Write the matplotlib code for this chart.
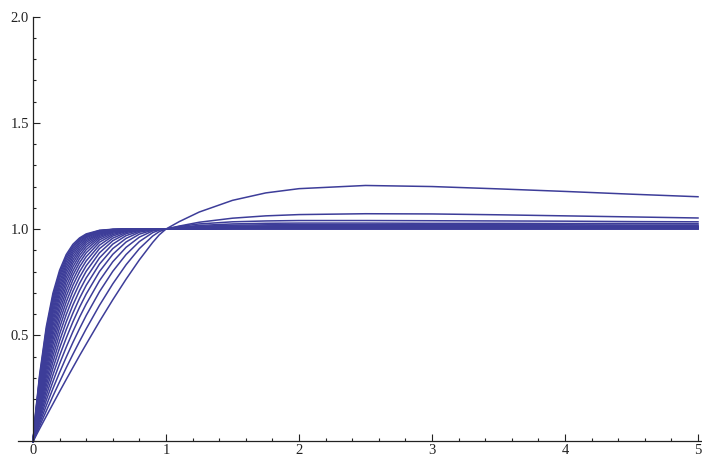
import matplotlib
matplotlib.use('Agg')
import matplotlib.pyplot as plt
from matplotlib.ticker import FixedLocator

# Puntos en x donde se leyeron las curvas (subida hasta x=1 y tramo despues de 1)
x_subida = [0, 0.02, 0.05, 0.1, 0.15, 0.2, 0.25, 0.3, 0.35, 0.4, 0.5, 0.6, 0.7, 0.8, 0.9, 0.95, 1.0]
x_despues = [1.1, 1.25, 1.5, 1.75, 2.0, 2.5, 3.0, 3.5, 4.0, 4.5, 5.0]

# Valores de cada curva en la subida (de la mas lenta a la mas rapida)
curvas_subida = [
    [0, .024, .060, .119, .177, .235, .292, .348, .404, .458, .565, .667, .764, .855, .937, .973, 1],
    [0, .029, .073, .144, .214, .281, .347, .410, .471, .530, .641, .742, .832, .908, .967, .988, 1],
    [0, .035, .086, .169, .249, .325, .397, .466, .531, .593, .705, .801, .880, .941, .983, .995, 1],
    [0, .040, .099, .194, .282, .366, .444, .517, .585, .647, .757, .846, .914, .962, .991, .998, 1],
    [0, .046, .112, .217, .314, .404, .487, .563, .632, .694, .800, .881, .939, .976, .995, .999, 1],
    [0, .051, .125, .240, .345, .440, .527, .604, .674, .735, .835, .908, .956, .985, .997, 1, 1],
    [0, .057, .137, .262, .374, .474, .563, .642, .711, .770, .864, .929, .969, .990, .999, 1, 1],
    [0, .062, .150, .283, .402, .506, .597, .676, .744, .801, .888, .945, .978, .994, .999, 1, 1],
    [0, .067, .162, .304, .428, .536, .628, .707, .773, .827, .908, .957, .984, .996, 1, 1, 1],
    [0, .072, .174, .324, .454, .564, .657, .735, .799, .850, .924, .967, .989, .997, 1, 1, 1],
    [0, .078, .186, .344, .478, .590, .684, .760, .822, .870, .938, .974, .992, .998, 1, 1, 1],
    [0, .083, .197, .363, .501, .615, .708, .783, .842, .888, .949, .980, .994, .999, 1, 1, 1],
    [0, .088, .209, .382, .523, .638, .731, .803, .860, .903, .958, .985, .996, .999, 1, 1, 1],
    [0, .093, .220, .400, .545, .660, .752, .822, .876, .916, .965, .988, .997, 1, 1, 1, 1],
    [0, .098, .231, .417, .565, .681, .771, .839, .890, .927, .971, .991, .998, 1, 1, 1, 1],
    [0, .103, .242, .434, .584, .700, .789, .854, .902, .937, .976, .993, .998, 1, 1, 1, 1],
    [0, .108, .253, .451, .603, .718, .805, .868, .913, .945, .980, .994, .999, 1, 1, 1, 1],
    [0, .113, .263, .466, .620, .735, .820, .881, .923, .952, .984, .996, .999, 1, 1, 1, 1],
    [0, .118, .274, .482, .637, .751, .834, .892, .932, .959, .987, .997, .999, 1, 1, 1, 1],
    [0, .123, .284, .497, .653, .767, .847, .902, .940, .964, .989, .997, 1, 1, 1, 1, 1],
    [0, .128, .295, .512, .669, .781, .859, .912, .947, .969, .991, .998, 1, 1, 1, 1, 1],
    [0, .133, .305, .526, .684, .794, .870, .920, .953, .973, .993, .998, 1, 1, 1, 1, 1],
    [0, .138, .315, .540, .698, .806, .880, .928, .958, .977, .994, .999, 1, 1, 1, 1, 1],
]

# Valores de cada curva despues de x=1 (el pequeno sobrepaso)
curvas_despues = [
    [1.035, 1.080, 1.135, 1.170, 1.190, 1.205, 1.200, 1.189, 1.177, 1.164, 1.152],
    [1.014, 1.032, 1.051, 1.062, 1.068, 1.072, 1.071, 1.067, 1.062, 1.057, 1.052],
    [1.012, 1.024, 1.034, 1.038, 1.040, 1.040, 1.039, 1.038, 1.037, 1.035, 1.034],
    [1.008, 1.017, 1.024, 1.027, 1.028, 1.028, 1.027, 1.027, 1.026, 1.026, 1.025],
    [1.006, 1.013, 1.018, 1.020, 1.021, 1.021, 1.021, 1.020, 1.020, 1.019, 1.019],
    [1.005, 1.010, 1.014, 1.015, 1.016, 1.016, 1.016, 1.016, 1.015, 1.015, 1.015],
    [1.004, 1.008, 1.011, 1.012, 1.013, 1.013, 1.013, 1.012, 1.012, 1.012, 1.012],
    [1.003, 1.007, 1.009, 1.010, 1.011, 1.011, 1.011, 1.010, 1.010, 1.010, 1.010],
    [1.003, 1.005, 1.008, 1.009, 1.009, 1.009, 1.009, 1.009, 1.008, 1.008, 1.008],
    [1.002, 1.005, 1.007, 1.008, 1.008, 1.008, 1.008, 1.008, 1.007, 1.007, 1.007],
    [1.002, 1.004, 1.006, 1.007, 1.007, 1.007, 1.007, 1.007, 1.006, 1.006, 1.006],
    [1.002, 1.004, 1.005, 1.006, 1.006, 1.006, 1.006, 1.006, 1.005, 1.005, 1.005],
    [1.002, 1.003, 1.004, 1.005, 1.005, 1.005, 1.005, 1.005, 1.005, 1.005, 1.005],
    [1.001, 1.002, 1.003, 1.004, 1.004, 1.004, 1.004, 1.004, 1.004, 1.004, 1.004],
    [1.001, 1.002, 1.003, 1.003, 1.003, 1.003, 1.003, 1.003, 1.003, 1.003, 1.003],
    [1.001, 1.002, 1.003, 1.003, 1.003, 1.003, 1.003, 1.003, 1.003, 1.003, 1.003],
    [1.001, 1.002, 1.003, 1.003, 1.003, 1.003, 1.003, 1.003, 1.003, 1.003, 1.003],
    [1.001, 1.001, 1.002, 1.002, 1.002, 1.002, 1.002, 1.002, 1.002, 1.002, 1.002],
    [1.001, 1.001, 1.002, 1.002, 1.002, 1.002, 1.002, 1.002, 1.002, 1.002, 1.002],
    [1.001, 1.001, 1.002, 1.002, 1.002, 1.002, 1.002, 1.002, 1.002, 1.002, 1.002],
    [1.001, 1.001, 1.002, 1.002, 1.002, 1.002, 1.002, 1.002, 1.002, 1.002, 1.002],
    [1.001, 1.001, 1.002, 1.002, 1.002, 1.002, 1.002, 1.002, 1.002, 1.002, 1.002],
    [1.001, 1.001, 1.002, 1.002, 1.002, 1.002, 1.002, 1.002, 1.002, 1.002, 1.002],
]

etiquetas_y = ['0.5', '1.0', '1.5', '2.0']
valores_y = [0.5, 1.0, 1.5, 2.0]
etiquetas_x = ['0', '1', '2', '3', '4', '5']
valores_x = [0, 1, 2, 3, 4, 5]
# Marcas menores: cada 0.2 en x y cada 0.1 en y
menores_x = [i / 5 for i in range(26)]
menores_y = [i / 10 for i in range(21)]

color_linea = (0.24, 0.24, 0.6)  # azul tipico de Mathematica

fig = plt.figure(figsize=(7.02, 4.57), dpi=100)
ax = fig.add_axes([0, 0, 1, 1])

# Dibujamos todas las curvas con el mismo color
for subida, despues in zip(curvas_subida, curvas_despues):
    ax.plot(x_subida + x_despues, subida + despues, color=color_linea, lw=1.1,
            solid_joinstyle='round')

ax.set_xlim(-0.248, 5.03)
ax.set_ylim(-0.073, 2.078)

# Ejes que se cruzan en el origen, estilo Mathematica
ax.spines['top'].set_visible(False)
ax.spines['right'].set_visible(False)
ax.spines['left'].set_position(('data', 0))
ax.spines['bottom'].set_position(('data', 0))
ax.spines['left'].set_bounds(0, 2.0)
ax.spines['bottom'].set_bounds(-0.11, 5.03)
for lado in ['left', 'bottom']:
    ax.spines[lado].set_linewidth(0.9)
    ax.spines[lado].set_color('#222222')

ax.set_xticks(valores_x)
ax.set_xticklabels(etiquetas_x)
ax.xaxis.set_minor_locator(FixedLocator(menores_x))
ax.set_yticks(valores_y)
ax.set_yticklabels(etiquetas_y)
ax.yaxis.set_minor_locator(FixedLocator(menores_y))

ax.tick_params(which='both', direction='in', color='#222222', width=0.8)
ax.tick_params(which='major', length=5, labelsize=10.5)
ax.tick_params(axis='x', which='major', pad=1.5)
ax.tick_params(axis='y', which='major', pad=3)
ax.tick_params(which='minor', length=2.5)
for etiqueta in ax.get_xticklabels() + ax.get_yticklabels():
    etiqueta.set_family('Liberation Serif')
    etiqueta.set_color('#222222')

fig.savefig('out.png', dpi=100)
